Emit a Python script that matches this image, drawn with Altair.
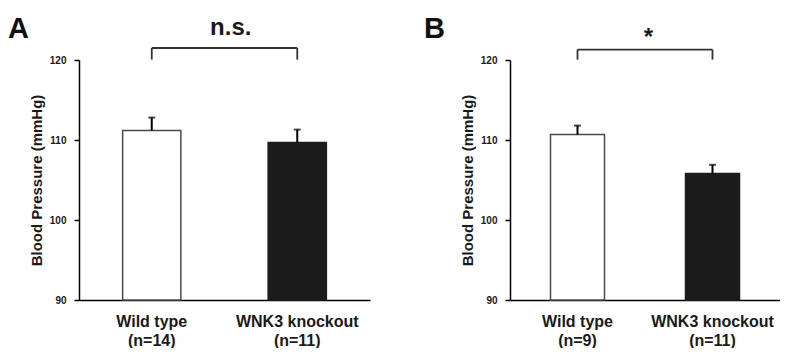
import altair as alt
import pandas as pd

# ---- data ----
groups = ["Wild type", "WNK3 knockout"]
n_a = [14, 11]
mean_a = [111.2, 109.7]
sem_a = [1.6, 1.6]
n_b = [9, 11]
mean_b = [110.7, 105.8]
sem_b = [1.1, 1.1]
y_ticks = [90, 100, 110, 120]
sig_labels = ["n.s.", "*"]
panel_letters = ["A", "B"]

FONT = "Liberation Sans"
PLOT_H = 240


def panel(ns, means, sems, sig, letter, width, sig_dx, sig_size, sig_y, bracket_y, title_dx, title_offset):
    labels = [f"{g}|(n={n})" for g, n in zip(groups, ns)]
    df = pd.DataFrame({
        "label": labels,
        "mean": means,
        "upper": [m + s for m, s in zip(means, sems)],
    })
    xscale = alt.Scale(domain=labels, paddingInner=0.6, paddingOuter=0.3)
    yscale = alt.Scale(domain=[90, 120], nice=False, zero=False)
    xaxis = alt.Axis(
        labelAngle=0, ticks=False, domainColor="black", domainWidth=1.5,
        labelFont=FONT, labelFontSize=16, labelFontWeight="bold", labelColor="#1a1a1a",
        labelExpr="split(datum.label, '|')", labelLineHeight=19, labelPadding=13,
        title=None,
    )
    yaxis = alt.Axis(
        values=y_ticks, grid=False, domainColor="black", domainWidth=1.5,
        tickColor="black", tickWidth=1.5, tickSize=5, labelPadding=8,
        labelFont=FONT, labelFontSize=10, labelFontWeight="bold", labelColor="#1a1a1a",
        title="Blood Pressure (mmHg)", titleFont=FONT, titleFontSize=15,
        titleFontWeight="bold", titleColor="#1a1a1a", titlePadding=5,
    )
    x = alt.X("label:N", scale=xscale, axis=xaxis, title=None)

    bars = alt.Chart(df).mark_bar(strokeWidth=1.5).encode(
        x=x,
        y=alt.Y("mean:Q", scale=yscale, axis=yaxis),
        y2=alt.datum(90),
        fill=alt.Fill("label:N", scale=alt.Scale(domain=labels, range=["#ffffff", "#1c1c1c"]), legend=None),
        stroke=alt.Stroke("label:N", scale=alt.Scale(domain=labels, range=["#4a4a4a", "#1c1c1c"]), legend=None),
    )
    err = alt.Chart(df).mark_rule(color="black", strokeWidth=2).encode(
        x=alt.X("label:N"), y=alt.Y("mean:Q"), y2="upper:Q"
    )
    caps = alt.Chart(df).mark_tick(color="black", thickness=2, size=7).encode(
        x=alt.X("label:N"), y=alt.Y("upper:Q")
    )
    br = pd.DataFrame({"x": [labels[0]], "x2": [labels[1]], "y": [bracket_y]})
    bracket = alt.Chart(br).mark_rule(color="#333333", strokeWidth=1.8).encode(
        x=alt.X("x:N"), x2="x2:N", y=alt.Y("y:Q")
    )
    legs_df = pd.DataFrame({"x": labels, "y": [120.05, 120.05], "y2": [bracket_y, bracket_y]})
    legs = alt.Chart(legs_df).mark_rule(color="#333333", strokeWidth=1.8).encode(
        x=alt.X("x:N"), y=alt.Y("y:Q"), y2="y2:Q"
    )
    sig_df = pd.DataFrame({"x": [labels[0]], "y": [sig_y], "t": [sig]})
    sig_text = alt.Chart(sig_df).mark_text(
        font=FONT, fontSize=sig_size, fontWeight="bold", color="#1a1a1a",
        dx=sig_dx, baseline="middle", align="center",
    ).encode(x=alt.X("x:N"), y=alt.Y("y:Q"), text="t:N")

    return alt.layer(bars, err, caps, bracket, legs, sig_text).properties(
        width=width, height=PLOT_H,
        title=alt.TitleParams(
            text=letter, anchor="start", frame="group", dx=title_dx, offset=title_offset,
            font=FONT, fontSize=29, fontWeight="bold", color="#111111",
        ),
    )


pa = panel(n_a, mean_a, sem_a, sig_labels[0], panel_letters[0], 291, 79, 24, 124.0, 121.5, -71, -28)
pb = panel(n_b, mean_b, sem_b, sig_labels[1], panel_letters[1], 270, 71, 24, 122.8, 121.3, -86, -18)

chart = alt.hconcat(pa, pb, spacing=54).properties(
    padding={"top": 6, "left": 0, "right": 0, "bottom": 0}
).configure_view(stroke=None)
chart.save("out.html", embed_options={"renderer": "svg", "actions": False})
